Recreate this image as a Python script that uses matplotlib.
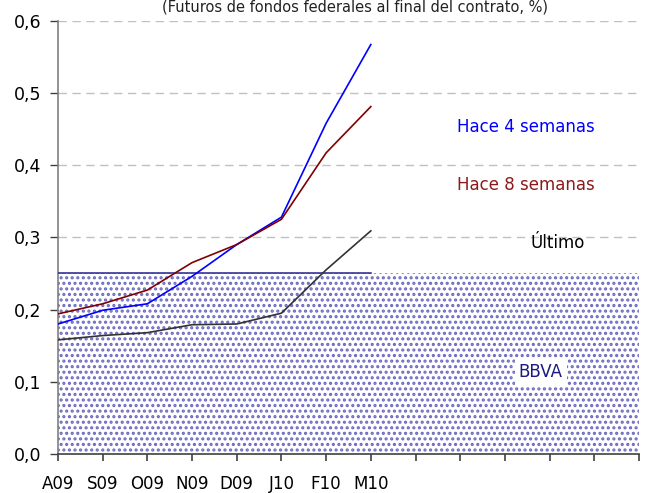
#Fed funds futures chart: expected rate at contract end (%)

import matplotlib
matplotlib.use("Agg")
import matplotlib.pyplot as plt

plt.rcParams['font.family'] = ['DejaVu Sans']
plt.rcParams['hatch.linewidth'] = 1.5

#the data
months = ["A09", "S09", "O09", "N09", "D09", "J10", "F10", "M10"]
hace_4 = [0.180, 0.199, 0.208, 0.246, 0.290, 0.328, 0.458, 0.567]
hace_8 = [0.194, 0.208, 0.227, 0.265, 0.290, 0.325, 0.417, 0.481]
ultimo = [0.158, 0.164, 0.168, 0.179, 0.180, 0.195, 0.255, 0.309]
bbva = [0.25, 0.25, 0.25, 0.25, 0.25, 0.25, 0.25, 0.25]
n_slots = 13 #axis runs on past the last contract
y_ticks = [0.0, 0.1, 0.2, 0.3, 0.4, 0.5, 0.6]

fig = plt.figure(figsize=(6.45, 4.93), dpi=100)
ax = fig.add_axes([0.0899, 0.0791, 0.9008, 0.879])

x = list(range(len(months)))

#BBVA shaded band across the whole axis
ax.fill_between([0, n_slots], [bbva[0], bbva[-1]], 0, facecolor='white',
                edgecolor='#6a6ac0', hatch='...', linewidth=0, zorder=1)
ax.plot(x, bbva, color='#333399', lw=1.2, zorder=3)

#grid
for yv in y_ticks[1:]:
    ax.axhline(yv, color='#c0c0c0', lw=1.0, dashes=(6, 4), zorder=0.5)

ax.plot(x, hace_4, color='#0000ff', lw=1.2, zorder=4)
ax.plot(x, hace_8, color='#800000', lw=1.2, zorder=4)
ax.plot(x, ultimo, color='#333333', lw=1.2, zorder=4)

#labels
ax.text(10.47, 0.453, "Hace 4 semanas", color='#0000ff', fontsize=12, ha='center', va='center')
ax.text(10.47, 0.372, "Hace 8 semanas", color='#8b1a1a', fontsize=12, ha='center', va='center')
ax.text(11.17, 0.292, "Último", color='#000000', fontsize=12, ha='center', va='center')
ax.text(10.8, 0.113, "BBVA", color='#1a1a80', fontsize=12, ha='center', va='center',
        bbox=dict(facecolor='white', edgecolor='none', pad=3), zorder=5)

fig.text(0.55, 0.985, "(Futuros de fondos federales al final del contrato, %)",
         fontsize=10.5, ha='center', va='center', color='#222222')

#axes
ax.set_xlim(0, n_slots)
ax.set_ylim(0, 0.6)
ax.set_xticks(range(n_slots + 1))
ax.set_xticklabels(months + [""] * (n_slots + 1 - len(months)), fontsize=12)
ax.set_yticks(y_ticks)
ax.set_yticklabels([("%.1f" % v).replace(".", ",") for v in y_ticks], fontsize=12.5)
ax.tick_params(axis='x', length=5, width=1.2, color='#404040', pad=10)
ax.tick_params(axis='y', length=6, width=1.0, color='#404040', pad=6)
for s in ['top', 'right']:
    ax.spines[s].set_visible(False)
ax.spines['left'].set_color('#808080')
ax.spines['bottom'].set_color('#404040')
ax.spines['left'].set_linewidth(1.2)
ax.spines['bottom'].set_linewidth(1.2)

fig.savefig("out.png", dpi=100)
